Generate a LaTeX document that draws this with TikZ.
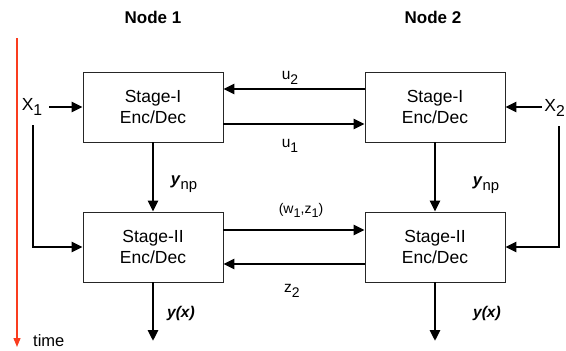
\documentclass[tikz,border=0pt]{standalone}
\usepackage{fontspec}
\setmainfont{Liberation Sans}
\usetikzlibrary{arrows.meta,shadows}
\newcommand{\lowsub}[1]{\raisebox{-0.55ex}{\scalebox{0.9}{#1}}}
\tikzset{
  encbox/.style={draw=black!85, line width=0.8pt, fill=white,
    minimum width=140pt, minimum height=70pt, align=center,
    font=\fontsize{17.5}{21}\selectfont,
    drop shadow={opacity=0.25, shadow xshift=1.2pt, shadow yshift=-1.2pt}},
  link/.style={line width=2.9pt, -{Triangle[length=11pt,width=10pt]}},
  lbl/.style={font=\fontsize{15.5}{18}\selectfont, inner sep=0pt},
  head/.style={font=\fontsize{17}{20}\bfseries\selectfont},
  outlbl/.style={font=\fontsize{15.5}{18}\bfseries\itshape\selectfont, inner sep=0pt}
}
\definecolor{timered}{RGB}{250,60,30}
\begin{document}
\begin{tikzpicture}[x=1pt,y=-1pt]
\useasboundingbox (0,0) rectangle (566,351);

% column headings
\node[head] (h1) at (153,17) {Node 1};
\node[head] (h2) at (433,17) {Node 2};

% encoder/decoder blocks
\node[encbox] (b1) at (153,107) {Stage-I\\Enc/Dec};
\node[encbox] (b2) at (435,107) {Stage-I\\Enc/Dec};
\node[encbox] (b3) at (153,247) {Stage-II\\Enc/Dec};
\node[encbox] (b4) at (435,247) {Stage-II\\Enc/Dec};

% time axis
\coordinate (t0) at (17,38);
\coordinate (t1) at (17,347);
\draw[timered, line width=1.4pt, -{Triangle[length=9pt,width=7pt]}] (t0) -- (t1);
\node[font=\fontsize{16.5}{18}\selectfont, anchor=west, inner sep=0pt] (time) at (33,341) {time};

% sources
\node[font=\fontsize{17.5}{20}\selectfont, inner sep=0pt] (x1) at (32,107) {X\lowsub{1}};
\node[font=\fontsize{17.5}{20}\selectfont, inner sep=0pt, anchor=east] (x2) at (565,108) {X\lowsub{2}};

\coordinate (x1a) at (49,107);
\draw[link] (x1a) -- (b1.west);
\coordinate (x2a) at (542,107);
\draw[link] (x2a) -- (b2.east);

\coordinate (f1) at (33,125);
\draw[link] (f1) |- (b3.west);
\coordinate (f2) at (559,126);
\draw[link] (f2) |- (b4.east);

% exchanges between the nodes
\draw[link] ([yshift=18pt]b2.west) -- ([yshift=18pt]b1.east);
\node[lbl] (u2) at (290,78) {u\lowsub{2}};
\draw[link] ([yshift=-17pt]b1.east) -- ([yshift=-17pt]b2.west);
\node[lbl] (u1) at (290,146) {u\lowsub{1}};

\draw[link] ([yshift=17pt]b3.east) -- ([yshift=17pt]b4.west);
\node[lbl, font=\fontsize{14}{16}\selectfont] (wz) at (301,210) {(w\lowsub{1},z\lowsub{1})};
\draw[link] ([yshift=-17pt]b4.west) -- ([yshift=-17pt]b3.east);
\node[lbl] (z2) at (292,291) {z\lowsub{2}};

% stage-I to stage-II
\draw[link] (b1.south) -- (b3.north);
\node[lbl, font=\fontsize{16.5}{18}\selectfont] (ynp1) at (184,184) {\textbf{\textit{y}}\lowsub{np}};
\draw[link] (b2.south) -- (b4.north);
\node[lbl, font=\fontsize{16.5}{18}\selectfont] (ynp2) at (486,185) {\textbf{\textit{y}}\lowsub{np}};

% outputs
\coordinate (o1) at (153,341);
\coordinate (o2) at (435,341);
\draw[link] (b3.south) -- (o1);
\draw[link] (b4.south) -- (o2);
\node[outlbl] (y1) at (181,313) {y(x)};
\node[outlbl] (y2) at (487,313) {y(x)};
\end{tikzpicture}
\end{document}
